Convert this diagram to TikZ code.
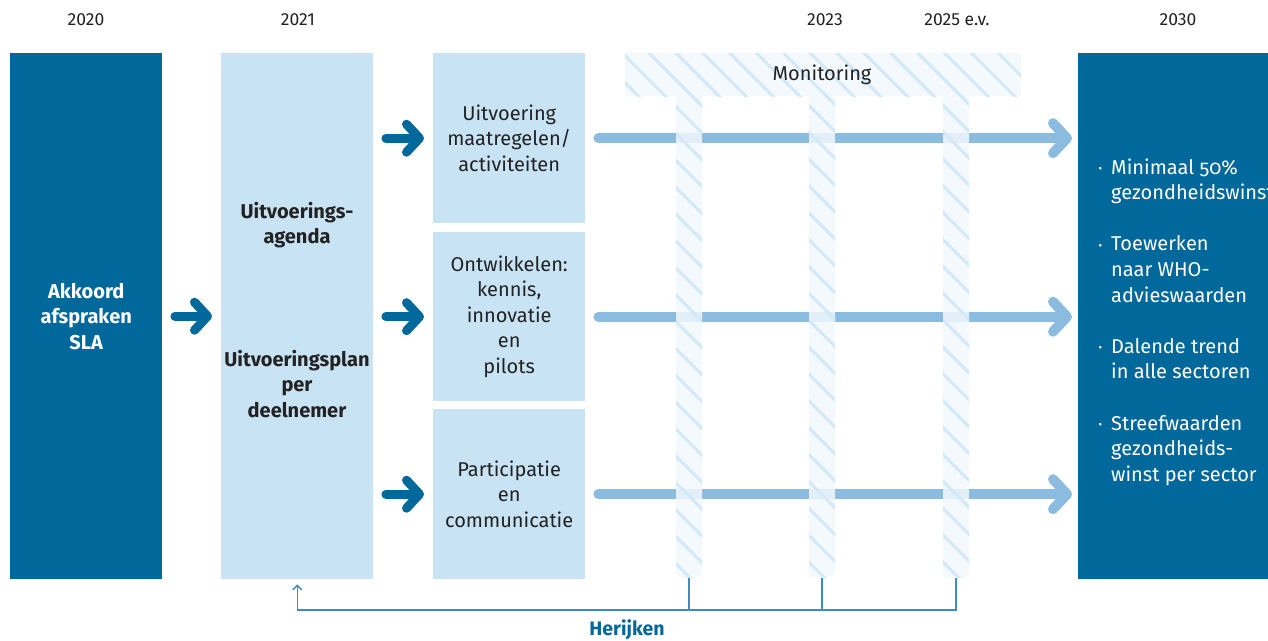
\documentclass[tikz,border=0pt]{standalone}
\usepackage{fontspec}
\setmainfont{Fira Sans}
\usetikzlibrary{arrows.meta,patterns.meta,positioning,calc}
\definecolor{donker}{RGB}{1,104,155}
\definecolor{licht}{RGB}{199,227,244}
\definecolor{hemel}{RGB}{139,188,224}
\definecolor{monfill}{RGB}{241,248,253}
\definecolor{monlijn}{RGB}{212,233,247}
\definecolor{herlijn}{RGB}{60,140,200}
\definecolor{tekst}{RGB}{34,34,34}
\newcommand\blokfont{\fontsize{20}{25.6}\selectfont}
\newcommand\bul{\raisebox{0.15ex}{\fontsize{11}{11}\selectfont\textbullet}\hspace{9pt}}
\tikzset{
  blok/.style={rectangle,inner sep=0pt,minimum width=152pt,anchor=north west,fill=licht,
    text=tekst,align=center,font=\blokfont},
  donkerblok/.style={blok,fill=donker,text=white},
  jaar/.style={text=tekst,font=\fontsize{17.5}{20}\selectfont},
  vet/.style={text=tekst,align=center,font=\blokfont\bfseries},
  pijl/.style={donker,line width=9pt,line cap=round,-{Straight Barb[round,length=13pt,width=28pt]}},
  lichtpijl/.style={hemel,line width=10pt,line cap=round,-{Straight Barb[round,length=14pt,width=30pt]}},
  kolom/.style={preaction={fill=monfill,fill opacity=0.86},
    pattern={Lines[angle=-45,distance=19pt,line width=3pt]},pattern color=monlijn,fill opacity=0.86},
  herijk/.style={herlijn,line width=1.4pt}
}
\begin{document}
\begin{tikzpicture}[x=1pt,y=-1pt]
\useasboundingbox (0,0) rectangle (1268,640);
% jaartallen
\node[jaar] (j2020) at (86,20) {2020};
\node[jaar] (j2021) at (298,20) {2021};
\node[jaar] (j2023) at (825,20) {2023};
\node[jaar] (j2025) at (957,20) {2025 e.v.};
\node[jaar] (j2030) at (1178,20) {2030};

% blokken
\node[donkerblok,minimum height=526pt,font=\blokfont\bfseries] (akkoord) at (10,53) {Akkoord\\afspraken\\SLA};
\node[blok,minimum height=526pt] (agenda) at (221,53) {};
\node[vet] (agendatxt) at (297,225) {Uitvoerings-\\agenda};
\node[vet] (plantxt) at (297,384) {Uitvoeringsplan\\per\\deelnemer};
\node[blok,minimum height=170pt] (uitvoering) at (433,53) {Uitvoering\\maatregelen/\\activiteiten};
\node[blok,minimum height=169pt] (ontwikkelen) at (433,232) {Ontwikkelen:\\kennis,\\innovatie\\en\\pilots};
\node[blok,minimum height=170pt] (participatie) at (433,409) {Participatie\\en\\communicatie};
\node[donkerblok,minimum height=526pt,minimum width=190pt] (doel) at (1078,53) {};

% pijlen
\draw[pijl] ($(akkoord.east)+(12.5,0)$) -- ($(agenda.west)+(-9,0)$);
\foreach \n in {uitvoering,ontwikkelen,participatie}{
  \draw[pijl] ($(agenda.east |- \n.west)+(12.5,0)$) -- ($(\n.west)+(-9,0)$);
  \draw[lichtpijl] ($(\n.east)+(13,0)$) -- ($(doel.west |- \n.east)+(-6,0)$);
}

% monitoring
\begin{scope}
  \clip (600,96) rectangle (1060,600);
  \foreach \x in {689,822,956}
    \path[kolom,rounded corners=7pt] (\x-13,70) rectangle (\x+13,578);
\end{scope}
\path[kolom] (625,53) rectangle (1021,96);
\node[text=tekst,font=\fontsize{20}{24}\selectfont] (monitoring) at (822,75) {Monitoring};
\coordinate (k1) at (689,578);
\coordinate (k2) at (822,578);
\coordinate (k3) at (956,578);

% herijken
\draw[herijk] (k1) -- ++(0,32);
\draw[herijk] (k2) -- ++(0,32);
\draw[herijk,-{Straight Barb[length=4.5pt,width=9pt]}] (k3) -- ++(0,32) -| ([yshift=-5pt]agenda.south);
\node[text=donker,font=\fontsize{19.5}{22}\selectfont\bfseries] (herijken) at (627,630) {Herijken};

% doelen 2030
\node[anchor=west,align=left,text=white,inner sep=0pt,font=\blokfont] (doeltxt) at (1111,322)
  {\llap{\bul}Minimaal {\addfontfeatures{Numbers=OldStyle}50\%}\\gezondheidswinst\\[25.6pt]
   \llap{\bul}Toewerken\\naar WHO-\\advieswaarden\\[25.6pt]
   \llap{\bul}Dalende trend\\in alle sectoren\\[25.6pt]
   \llap{\bul}Streefwaarden\\gezondheids-\\winst per sector};
\end{tikzpicture}
\end{document}
